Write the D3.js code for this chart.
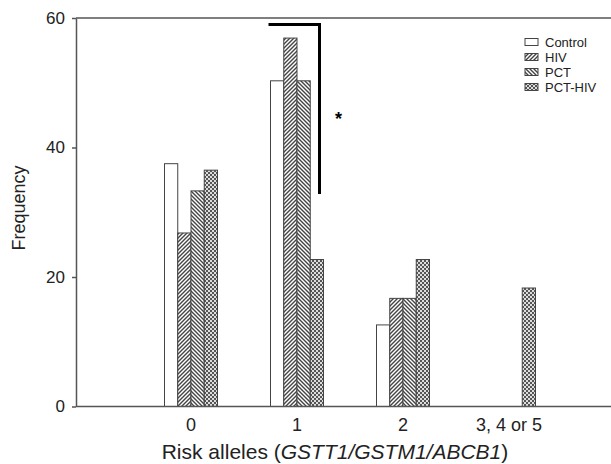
<!DOCTYPE html>
<html>
<head>
<meta charset="utf-8">
<title>Risk alleles frequency</title>
<style>
body { margin: 0; background: #fff; }
svg { font-family: "Liberation Sans", Arial, sans-serif; }
.frame { stroke: #555; stroke-width: 1.5; fill: none; }
.bar { stroke: #444; stroke-width: 1; }
.axis path, .axis line { stroke: #555; stroke-width: 1.5; }
.axis text { font-size: 17px; fill: #222; }
</style>
</head>
<body>
<svg id="chart" width="611" height="464"></svg>
<script src="https://d3js.org/d3.v7.min.js"></script>
<script>
var categories = ["0", "1", "2", "3, 4 or 5"];
var series = ["Control", "HIV", "PCT", "PCT-HIV"];
var control = [37.5, 50.3, 12.6, 0];
var hiv     = [26.8, 56.9, 16.7, 0];
var pct     = [33.3, 50.3, 16.7, 0];
var pcthiv  = [36.5, 22.7, 22.7, 18.3];
var yTicks = [0, 20, 40, 60];
var values = [control, hiv, pct, pcthiv];
var patterns = ["none", "hiv", "pct", "pcthiv"];

var svg = d3.select("#chart");
var mLeft = 76, mRight = 611, mTop = 18, mBottom = 406.5;

var y = d3.scaleLinear().domain([0, 60]).range([mBottom, mTop]);
var x0 = d3.scaleBand().domain(categories).range([138, 562]);
var x1 = d3.scaleBand().domain(series).range([26.5, 79.5]);

// fill patterns
var defs = svg.append("defs");
function hatch(id, d) {
  var p = defs.append("pattern").attr("id", id)
    .attr("patternUnits", "userSpaceOnUse").attr("width", 4).attr("height", 4);
  p.append("rect").attr("width", 4).attr("height", 4).attr("fill", "#fff");
  p.append("path").attr("d", d).attr("stroke", "#444").attr("stroke-width", 1.4);
}
hatch("hiv", "M-1,1L1,-1M0,4L4,0M3,5L5,3");
hatch("pct", "M-1,3L1,5M0,0L4,4M3,-1L5,1");
// checker for PCT-HIV
var ph = defs.append("pattern").attr("id", "pcthiv")
  .attr("patternUnits", "userSpaceOnUse").attr("width", 4).attr("height", 4);
ph.append("rect").attr("width", 4).attr("height", 4).attr("fill", "#ddd");
ph.append("rect").attr("width", 2).attr("height", 2).attr("fill", "#555");
ph.append("rect").attr("x", 2).attr("y", 2).attr("width", 2).attr("height", 2).attr("fill", "#555");

function fillFor(i) { return patterns[i] === "none" ? "#fff" : "url(#" + patterns[i] + ")"; }

svg.append("line").attr("class", "frame")
  .attr("x1", mLeft).attr("x2", mRight).attr("y1", mTop).attr("y2", mTop);

// bars
values.forEach(function (vals, si) {
  svg.append("g").selectAll("rect")
    .data(vals.map(function (v, ci) { return { c: categories[ci], v: v }; })
      .filter(function (d) { return d.v > 0; }))
    .join("rect")
    .attr("class", "bar")
    .attr("x", function (d) { return x0(d.c) + x1(series[si]); })
    .attr("width", x1.bandwidth())
    .attr("y", function (d) { return y(d.v); })
    .attr("height", function (d) { return y(0) - y(d.v); })
    .attr("fill", fillFor(si));
});

// axes
svg.append("g").attr("class", "axis")
  .attr("transform", "translate(" + mLeft + ",0)")
  .call(d3.axisLeft(y).tickValues(yTicks).tickSize(4).tickPadding(7).tickSizeOuter(0));
svg.append("line").attr("class", "frame")
  .attr("x1", mLeft).attr("x2", mRight).attr("y1", mBottom).attr("y2", mBottom);
svg.append("g").attr("class", "axis")
  .attr("transform", "translate(0," + mBottom + ")")
  .call(d3.axisBottom(x0).tickSize(0).tickPadding(12))
  .call(function (g) {
    g.select(".domain").remove();
    g.selectAll("text").style("font-size", "18px");
  });

// axis titles
svg.append("text")
  .attr("transform", "translate(25,208) rotate(-90)")
  .attr("text-anchor", "middle")
  .style("font-size", "18px").attr("fill", "#222")
  .text("Frequency");

var xt = svg.append("text")
  .attr("x", 335).attr("y", 459)
  .attr("text-anchor", "middle")
  .style("font-size", "21px").attr("fill", "#222");
xt.append("tspan").text("Risk alleles (");
xt.append("tspan").style("font-style", "italic").text("GSTT1/GSTM1/ABCB1");
xt.append("tspan").text(")");

// significance bracket
var bx1 = x0("1") + x1("Control") - 2;
var bx2 = x0("1") + x1("PCT-HIV") + x1.bandwidth() - 4;
svg.append("path")
  .attr("d", "M" + bx1 + "," + y(59) + "H" + bx2 + "V" + y(32.8))
  .attr("fill", "none").attr("stroke", "#000").attr("stroke-width", 3);
svg.append("text")
  .attr("x", bx2 + 19).attr("y", y(44.7) + 8)
  .attr("text-anchor", "middle")
  .style("font-size", "18px").style("font-weight", "bold").text("*");

// legend
var lg = svg.append("g").attr("transform", "translate(525,42)");
series.forEach(function (s, i) {
  var row = lg.append("g").attr("transform", "translate(0," + (i * 15) + ")");
  row.append("rect").attr("x", 0).attr("y", -3.5).attr("width", 13).attr("height", 7)
    .attr("fill", fillFor(i)).attr("stroke", "#444").attr("stroke-width", 1);
  row.append("text").attr("x", 20).attr("y", 4.5)
    .style("font-size", "13px").attr("fill", "#222").text(s);
});
</script>
</body>
</html>
